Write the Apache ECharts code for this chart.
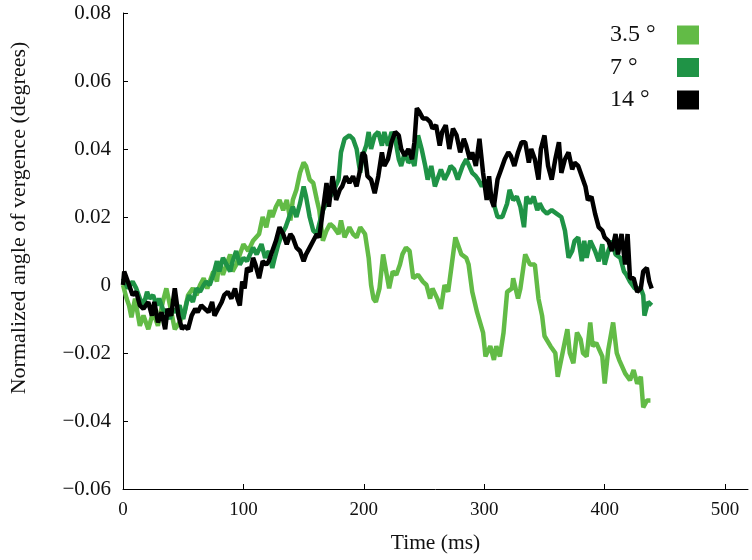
<!DOCTYPE html>
<html><head><meta charset="utf-8">
<script src="https://cdn.jsdelivr.net/npm/echarts@6/dist/echarts.min.js"></script>
<style>html,body{margin:0;padding:0;background:#fff}#c{width:752px;height:560px}</style>
</head><body><div id="c"></div>
<script>
const seriesNames = ['3.5 °', '7 °', '14 °'];
const xTicks = [0, 100, 200, 300, 400, 500];
const yTicks = [-0.06, -0.04, -0.02, 0, 0.02, 0.04, 0.06, 0.08];

const t35 = [0,3,5,7,10,14,17,21,25,29,
 33,36,39,43,47,51,54,58,61,64,
 67,70,72,75,78,80,83,86,89,91,
 94,97,100,104,108,113,116,119,122,124,
 127,130,133,136,139,141,144,147,150,152,
 155,158,161,163,166,169,172,175,179,181,
 184,188,191,194,197,201,204,206,208,210,
 213,216,219,221,224,227,230,232,235,238,
 241,245,249,252,255,257,261,264,267,270,
 273,276,278,281,285,287,290,294,299,301,
 305,308,310,313,316,319,323,324,328,330,
 334,338,342,345,348,350,355,359,361,365,
 369,371,374,377,380,382,385,388,390,393,
 398,400,403,407,410,412,417,421,424,427,
 430,432,435,438];
const v35 = [0,-0.004,-0.006,-0.0095,-0.004,-0.012,-0.009,-0.013,-0.008,-0.012,
 -0.005,-0.001,-0.006,-0.013,-0.011,-0.008,-0.003,-0.001,-0.003,0,
 0.002,-0.001,0.001,0.004,0.001,0.007,0.003,0.006,0.009,0.004,
 0.006,0.009,0.012,0.010,0.013,0.015,0.020,0.017,0.022,0.020,
 0.023,0.025,0.022,0.025,0.019,0.025,0.028,0.033,0.036,0.035,
 0.031,0.030,0.025,0.022,0.013,0.016,0.018,0.017,0.015,0.019,
 0.014,0.017,0.015,0.014,0.017,0.015,0.008,0.000,-0.004,-0.005,
 -0.001,0.009,0.003,-0.001,0.004,0.003,0.006,0.009,0.011,0.010,
 0.002,0.003,0.001,0,-0.004,-0.001,-0.004,-0.007,0,-0.002,
 0.006,0.014,0.012,0.009,0.008,0.006,-0.002,-0.008,-0.014,-0.021,
 -0.018,-0.022,-0.018,-0.021,-0.014,-0.002,-0.001,0.002,-0.004,-0.001,
 0.009,0.006,0.006,-0.004,-0.009,-0.015,-0.018,-0.020,-0.027,-0.020,
 -0.013,-0.020,-0.023,-0.014,-0.016,-0.020,-0.021,-0.011,-0.018,-0.017,
 -0.021,-0.029,-0.019,-0.011,-0.020,-0.022,-0.026,-0.028,-0.025,-0.029,
 -0.027,-0.036,-0.034,-0.034];

const t7 = [0,4,8,11,14,17,20,22,25,28,
 30,33,36,39,41,44,47,50,53,55,
 58,61,64,67,69,72,75,78,80,83,
 86,89,91,94,97,100,103,108,111,115,
 118,121,124,126,129,132,135,139,141,144,
 147,150,152,155,158,161,163,166,170,174,
 179,181,184,188,191,194,197,199,202,204,
 206,209,212,215,217,220,223,226,229,231,
 234,237,240,242,245,248,251,253,256,259,
 261,264,267,270,272,275,278,282,285,290,
 293,295,298,301,303,307,311,315,319,321,
 324,327,330,333,335,338,341,344,346,349,
 352,356,360,364,367,370,373,375,378,381,
 383,385,388,392,395,398,400,403,406,409,
 413,416,418,421,425,430,432,433,436,439];
const v7 = [0.002,-0.001,0.001,-0.001,-0.004,-0.006,-0.002,-0.004,-0.003,-0.006,
 -0.004,-0.007,-0.008,-0.010,-0.007,-0.008,-0.006,-0.010,-0.005,-0.003,
 -0.005,-0.001,-0.002,0,0.001,0,0.003,0.007,0.004,0.008,
 0.006,0.004,0.007,0.010,0.006,0.008,0.007,0.011,0.009,0.012,
 0.008,0.010,0.005,0.008,0.012,0.015,0.017,0.021,0.023,0.020,
 0.024,0.029,0.026,0.020,0.016,0.015,0.018,0.022,0.025,0.027,
 0.031,0.039,0.043,0.044,0.043,0.040,0.033,0.038,0.041,0.045,
 0.040,0.044,0.045,0.041,0.045,0.041,0.045,0.043,0.037,0.035,
 0.039,0.036,0.037,0.035,0.044,0.040,0.035,0.031,0.035,0.029,
 0.031,0.034,0.031,0.033,0.035,0.034,0.031,0.035,0.037,0.033,
 0.032,0.031,0.029,0.031,0.027,0.025,0.020,0.020,0.024,0.028,
 0.025,0.026,0.023,0.017,0.026,0.024,0.026,0.022,0.024,0.022,
 0.021,0.022,0.021,0.020,0.016,0.008,0.010,0.013,0.014,0.007,
 0.013,0.008,0.013,0.010,0.007,0.012,0.006,0.010,0.013,0.009,
 0.008,0.004,0.003,0.001,-0.001,-0.001,-0.003,-0.009,-0.005,-0.006];

const t14 = [0,1,4,8,11,14,17,21,24,26,
 29,32,35,37,40,43,46,49,51,54,
 57,60,62,65,68,71,74,76,79,82,
 84,87,90,93,95,97,99,101,103,106,
 108,110,113,116,119,121,124,127,130,133,
 136,139,141,144,147,150,152,155,158,161,
 163,166,169,171,174,177,180,182,185,188,
 191,194,197,199,201,203,206,209,212,215,
 217,220,223,226,229,231,234,237,240,242,
 244,246,249,252,255,257,260,263,265,268,
 271,274,277,280,283,285,288,290,293,296,
 299,302,304,306,308,311,314,317,320,322,
 325,328,331,334,337,339,342,345,347,350,
 353,356,359,362,364,367,370,373,375,378,
 381,384,386,389,392,395,398,400,403,406,
 409,411,414,417,419,421,424,427,430,432,
 435,437,439];
const v14 = [0,0.004,0.001,-0.003,-0.002,-0.006,-0.007,-0.005,-0.009,-0.005,
 -0.011,-0.008,-0.013,-0.007,-0.009,-0.001,-0.009,-0.013,-0.012,-0.013,
 -0.009,-0.007,-0.008,-0.006,-0.007,-0.008,-0.005,-0.009,-0.007,-0.005,
 -0.003,-0.002,-0.004,-0.001,-0.004,-0.006,0.001,-0.001,0.005,0.004,
 0.008,0.006,0.002,0.007,0.006,0.007,0.010,0.013,0.017,0.015,
 0.012,0.015,0.014,0.011,0.010,0.007,0.009,0.011,0.013,0.015,
 0.014,0.022,0.030,0.023,0.032,0.025,0.028,0.029,0.032,0.030,
 0.032,0.029,0.034,0.039,0.038,0.032,0.031,0.027,0.032,0.039,
 0.035,0.037,0.042,0.045,0.044,0.040,0.038,0.040,0.037,0.042,
 0.052,0.051,0.049,0.049,0.048,0.046,0.047,0.041,0.045,0.047,
 0.040,0.046,0.044,0.039,0.043,0.041,0.037,0.039,0.035,0.043,
 0.033,0.025,0.032,0.025,0.023,0.031,0.034,0.037,0.039,0.038,
 0.035,0.039,0.042,0.042,0.036,0.040,0.037,0.031,0.040,0.044,
 0.035,0.031,0.037,0.042,0.033,0.037,0.039,0.034,0.036,0.035,
 0.032,0.029,0.025,0.026,0.021,0.017,0.016,0.014,0.013,0.010,
 0.015,0.009,0.015,0.006,0.015,0.002,0.002,-0.002,-0.001,0.004,
 0.005,0.001,-0.001];

const colors = ['#62bb46', '#1f9346', '#000000'];
const FONT = '"Liberation Serif", "Times New Roman", serif';

function zip(t, v) { return t.map((x, i) => [x, v[i]]); }
function fmtY(v) {
  if (Math.abs(v) < 1e-9) return '0';
  return (v < 0 ? '\u2212' : '') + Math.abs(v).toFixed(2);
}

const chart = echarts.init(document.getElementById('c'), null, { renderer: 'canvas' });
chart.setOption({
  animation: false,
  backgroundColor: '#ffffff',
  grid: { left: 123, right: 4, top: 13, bottom: 71, containLabel: false },
  xAxis: {
    type: 'value', min: 0, max: 519, interval: 100,
    axisLine: { show: true, onZero: false, lineStyle: { color: '#000', width: 1 } },
    axisTick: { show: true, inside: true, length: 5, customValues: xTicks, lineStyle: { color: '#000' } },
    axisLabel: { customValues: xTicks, margin: 12, fontFamily: FONT, fontSize: 19, color: '#111' },
    splitLine: { show: false },
    name: 'Time (ms)', nameLocation: 'middle', nameGap: 43,
    nameTextStyle: { fontFamily: FONT, fontSize: 21.5, color: '#111' }
  },
  yAxis: {
    type: 'value', min: -0.06, max: 0.08, interval: 0.02,
    axisLine: { show: true, onZero: false, lineStyle: { color: '#000', width: 1 } },
    axisTick: { show: true, inside: true, length: 5, customValues: yTicks, lineStyle: { color: '#000' } },
    axisLabel: { customValues: yTicks, margin: 12, fontFamily: FONT, fontSize: 21, color: '#111', formatter: fmtY },
    splitLine: { show: false }
  },
  legend: {
    orient: 'vertical', right: 53, top: 23, align: 'right', padding: 0,
    itemWidth: 22, itemHeight: 19, itemGap: 8.5, icon: 'rect',
    data: seriesNames,
    formatter: n => '{a|' + n + '}',
    textStyle: { rich: { a: { width: 62, align: 'left', fontFamily: FONT, fontSize: 24, lineHeight: 19, color: '#111' } } }
  },
  graphic: [{
    type: 'text', x: 19, y: 218, rotation: Math.PI / 2,
    style: { text: 'Normalized angle of vergence (degrees)', fontFamily: FONT, fontSize: 22, fill: '#111', align: 'center', verticalAlign: 'middle' }
  }],
  series: [
    { name: seriesNames[0], type: 'line', data: zip(t35, v35), color: colors[0], symbol: 'none', lineStyle: { width: 4.5, color: colors[0] } },
    { name: seriesNames[1], type: 'line', data: zip(t7, v7), color: colors[1], symbol: 'none', lineStyle: { width: 4.5, color: colors[1] } },
    { name: seriesNames[2], type: 'line', data: zip(t14, v14), color: colors[2], symbol: 'none', lineStyle: { width: 4.5, color: colors[2] } }
  ]
});
</script></body></html>
